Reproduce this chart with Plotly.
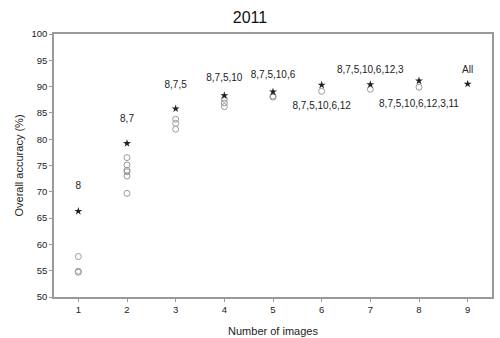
import plotly.graph_objects as go

# Data
best_x = [1, 2, 3, 4, 5, 6, 7, 8, 9]
best_y = [66.3, 79.2, 85.8, 88.3, 89.0, 90.3, 90.4, 91.1, 90.5]

other_x = [1, 1, 1, 2, 2, 2, 2, 2, 2, 3, 3, 3, 4, 4, 4, 5, 5, 6, 7, 8]
other_y = [57.7, 54.9, 54.7, 76.5, 75.1, 74.1, 73.8, 73.0, 69.7,
           83.8, 83.0, 81.9, 87.6, 86.9, 86.2, 88.2, 88.0, 89.1, 89.5, 89.9]

label_text = ["8", "8,7", "8,7,5", "8,7,5,10", "8,7,5,10,6", "8,7,5,10,6,12",
              "8,7,5,10,6,12,3", "8,7,5,10,6,12,3,11", "All"]
label_y = [71.0, 83.8, 90.2, 91.6, 92.1, 86.2, 93.0, 86.6, 93.0]

x_ticks = [1, 2, 3, 4, 5, 6, 7, 8, 9]
y_ticks = [50, 55, 60, 65, 70, 75, 80, 85, 90, 95, 100]

fig = go.Figure()
fig.add_trace(go.Scatter(
    x=other_x, y=other_y, mode="markers",
    marker=dict(symbol="circle-open", size=6, color="#9a9a9a", line=dict(width=1)),
    showlegend=False, hoverinfo="skip"))
fig.add_trace(go.Scatter(
    x=best_x, y=best_y, mode="markers",
    marker=dict(symbol="star", size=6, color="#222222"),
    showlegend=False, hoverinfo="skip"))
fig.add_trace(go.Scatter(
    x=best_x, y=label_y, mode="text", text=label_text,
    textfont=dict(family="Liberation Sans, Arial, sans-serif", size=10, color="#222222"),
    showlegend=False, hoverinfo="skip"))

axis_common = dict(
    showgrid=False, zeroline=False, showline=True, mirror=True,
    linecolor="#9a9a9a", linewidth=1.5, ticks="outside", ticklen=3,
    tickcolor="#9a9a9a", tickfont=dict(size=9.5, color="#222222"),
    automargin=False,
)
fig.update_xaxes(range=[0.5, 9.5], tickvals=x_ticks,
                 title=dict(text="Number of images", font=dict(size=11, color="#222222"), standoff=13),
                 **axis_common)
fig.update_yaxes(range=[50, 100], tickvals=y_ticks,
                 title=dict(text="Overall accuracy (%)", font=dict(size=11, color="#222222"), standoff=6),
                 **axis_common)

fig.update_layout(
    width=500, height=338,
    margin=dict(l=54, r=8, t=34, b=41),
    paper_bgcolor="white", plot_bgcolor="white",
    font=dict(family="Liberation Sans, Arial, sans-serif", color="#222222"),
    title=dict(text="2011", x=0.5, xanchor="center", y=0.95, yanchor="middle",
               font=dict(size=16, color="#111111")),
)

fig.write_html("out.html")
